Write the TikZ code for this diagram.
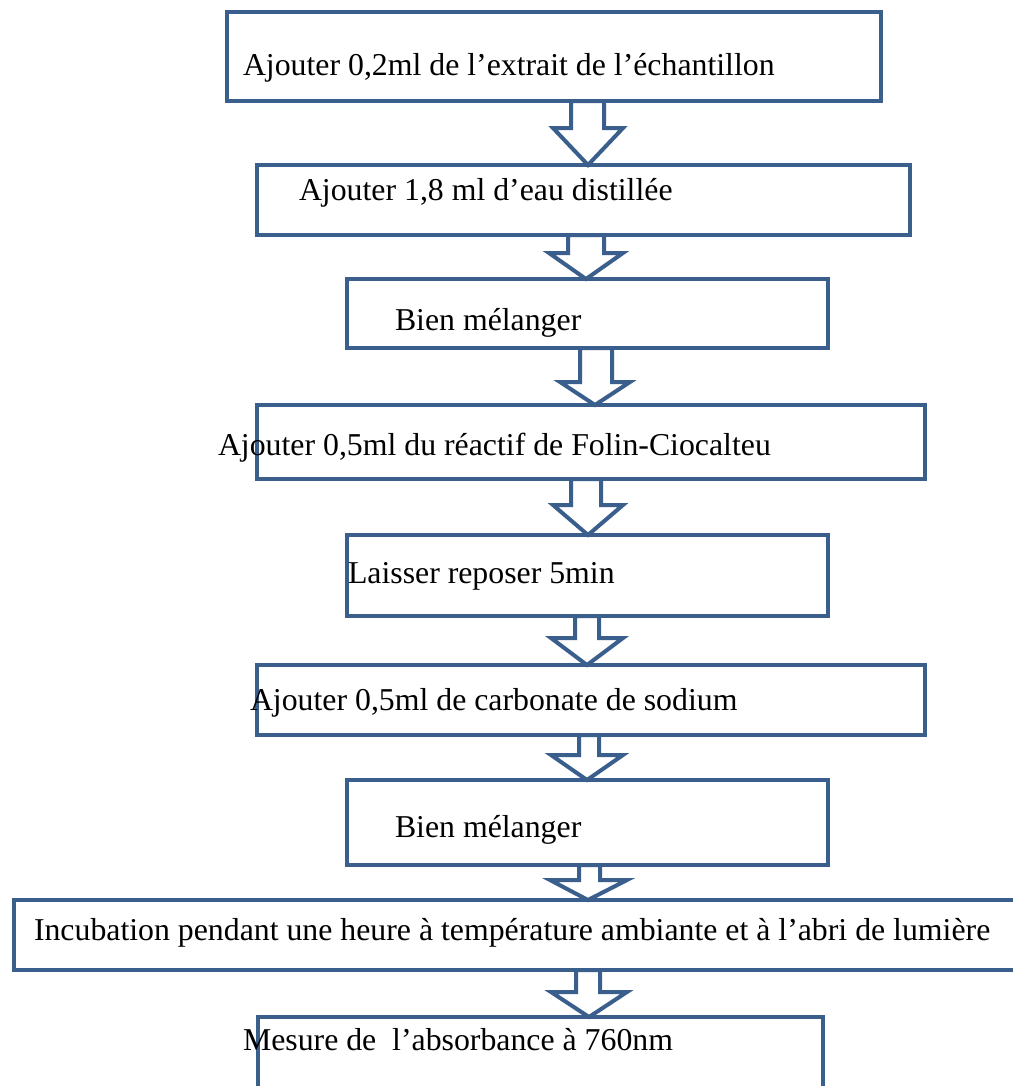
\documentclass[tikz,border=0pt]{standalone}
\usepackage{fontspec}
\setmainfont{Liberation Serif}
\definecolor{boxblue}{HTML}{3A5F8D}
\newcommand{\blockarr}[8]{% #1 from, #2 to, #3 x left shaft, #4 x right shaft, #5 x left head, #6 x right head, #7 xc tip, #8 head top y
  \draw[arrowline] (#3,0 |- #1.south) -- (#3,#8) -- (#5,#8) -- (#7,0 |- #2.north) -- (#6,#8) -- (#4,#8) -- (#4,0 |- #1.south) -- cycle;}
\begin{document}
\begin{tikzpicture}[x=0.75pt,y=-0.75pt,
  box/.style={draw=boxblue, line width=3.4pt, fill=white, inner sep=0pt, outer sep=0pt},
  arrowline/.style={draw=boxblue, line width=3pt, fill=white, line join=miter},
  lbl/.style={anchor=base west, inner sep=0pt, outer sep=0pt, font=\fontsize{23.85}{28}\selectfont}]
\useasboundingbox (0,0) rectangle (1013,1086);
\begin{scope}
\clip (0,0) rectangle (1013,1086);
% boxes
\node[box, minimum width=654*0.75pt, minimum height=89*0.75pt] (b1) at (554,56.5) {};
\node[box, minimum width=653*0.75pt, minimum height=70*0.75pt] (b2) at (583.5,200) {};
\node[box, minimum width=481*0.75pt, minimum height=69*0.75pt] (b3) at (587.5,313.5) {};
\node[box, minimum width=668*0.75pt, minimum height=74*0.75pt] (b4) at (591,442) {};
\node[box, minimum width=481*0.75pt, minimum height=81*0.75pt] (b5) at (587.5,575.5) {};
\node[box, minimum width=668*0.75pt, minimum height=70*0.75pt] (b6) at (591,700) {};
\node[box, minimum width=481*0.75pt, minimum height=85*0.75pt] (b7) at (587.5,822.5) {};
\node[box, minimum width=1016*0.75pt, minimum height=70*0.75pt] (b8) at (522,935) {};
\node[box, minimum width=565*0.75pt, minimum height=83*0.75pt] (b9) at (540.5,1058.5) {};
% block arrows
\blockarr{b1}{b2}{571}{604}{553}{623}{588}{128}
\blockarr{b2}{b3}{568}{604}{549}{623}{586}{253}
\blockarr{b3}{b4}{580}{612}{560}{630}{595}{382}
\blockarr{b4}{b5}{571}{601}{553}{623}{588}{505}
\blockarr{b5}{b6}{575}{599}{551}{623}{587}{638}
\blockarr{b6}{b7}{579}{599}{551}{623}{587}{755}
\blockarr{b7}{b8}{579}{600}{550}{627}{588}{880}
\blockarr{b8}{b9}{576}{600}{551}{627}{589}{992}
\end{scope}
% texts
\node[lbl] (t1) at (243,75) {Ajouter 0,2ml de l’extrait de l’échantillon};
\node[lbl] (t2) at (299,200) {Ajouter 1,8 ml d’eau distillée};
\node[lbl] (t3) at (395,330) {Bien mélanger};
\node[lbl] (t4) at (218,455) {Ajouter 0,5ml du réactif de Folin-Ciocalteu};
\node[lbl] (t5) at (348,583) {Laisser reposer 5min};
\node[lbl] (t6) at (250,710) {Ajouter 0,5ml de carbonate de sodium};
\node[lbl] (t7) at (395,837) {Bien mélanger};
\node[lbl] (t8) at (34,940) {Incubation pendant une heure à température ambiante et à l’abri de lumière};
\node[lbl] (t9) at (243,1050) {Mesure de\ \ l’absorbance à 760nm};
\end{tikzpicture}
\end{document}
